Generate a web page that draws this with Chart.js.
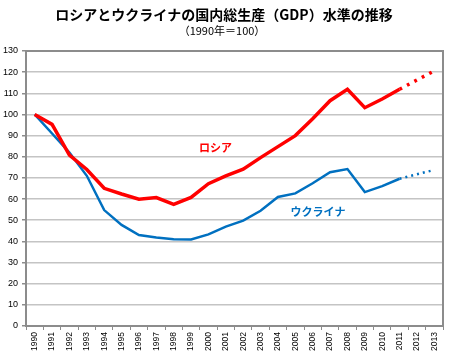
<!DOCTYPE html>
<html><head><meta charset="utf-8">
<script src="https://cdn.jsdelivr.net/npm/chart.js@4/dist/chart.umd.min.js"></script>
<style>html,body{margin:0;padding:0;background:#fff;}#wrap{width:450px;height:358px;position:relative;}</style>
</head><body><div id="wrap"><canvas id="c" width="450" height="358"></canvas></div>
<script>
const years = ['1990','1991','1992','1993','1994','1995','1996','1997','1998','1999','2000','2001','2002','2003','2004','2005','2006','2007','2008','2009','2010','2011','2012','2013'];
const russia = [100, 95.3, 80.8, 74.0, 65.1, 62.4, 59.9, 60.7, 57.5, 60.8, 67.3, 71.0, 74.1, 79.6, 84.8, 90.0, 98.0, 106.5, 111.9, 103.2, 107.3, 111.9, 116.3, 120.6];
const ukraine = [100, 91.0, 82.0, 71.0, 54.8, 47.8, 43.0, 41.8, 41.0, 40.9, 43.3, 47.0, 49.8, 54.5, 61.0, 62.7, 67.5, 72.7, 74.2, 63.3, 66.1, 69.6, 71.7, 73.8];
const forecastFrom = 21; // 2011 onward is dotted
const titleText = 'ロシアとウクライナの国内総生産（GDP）水準の推移';
const subtitleText = '（1990年＝100）';
const seriesLabels = ['ロシア', 'ウクライナ'];
const labelPos = [{x: 10.4, y: 84.2}, {x: 16.3, y: 53.9}];

const JP = '"Noto Sans CJK JP", "Noto Sans", sans-serif';
const colors = ['#ff0000', '#0070c0'];

const deco = {
  id: 'deco',
  beforeDatasetsDraw(chart) {
    const {ctx, chartArea: a} = chart;
    ctx.save();
    ctx.strokeStyle = '#8c8c8c';
    ctx.lineWidth = 2;
    ctx.beginPath();
    ctx.moveTo(a.left, a.top);
    ctx.lineTo(a.right, a.top);
    ctx.lineTo(a.right, a.bottom);
    ctx.stroke();
    ctx.restore();
  },
  afterDraw(chart) {
    const {ctx, scales} = chart;
    ctx.save();
    ctx.textAlign = 'center';
    ctx.textBaseline = 'middle';
    ctx.fillStyle = '#000';
    ctx.font = 'bold 14px ' + JP;
    ctx.fillText(titleText, 224, 15);
    ctx.font = '11px ' + JP;
    ctx.fillText(subtitleText, 222, 31);
    ctx.font = 'bold 11px ' + JP;
    seriesLabels.forEach((t, i) => {
      ctx.fillStyle = colors[i];
      ctx.fillText(t, scales.x.getPixelForValue(labelPos[i].x), scales.y.getPixelForValue(labelPos[i].y));
    });
    ctx.restore();
  }
};

const seg = (w) => ({
  borderDash: c => c.p0DataIndex >= forecastFrom ? [w * 0.8, w * 1.6] : undefined
});

new Chart(document.getElementById('c'), {
  type: 'line',
  data: {
    labels: years,
    datasets: [
      {label: seriesLabels[0], data: russia, borderColor: colors[0], borderWidth: 3.5, pointRadius: 0, tension: 0, segment: seg(3.5), borderCapStyle: 'butt'},
      {label: seriesLabels[1], data: ukraine, borderColor: colors[1], borderWidth: 2.5, pointRadius: 0, tension: 0, segment: seg(2.5), borderCapStyle: 'butt'}
    ]
  },
  options: {
    responsive: false,
    animation: false,
    layout: {padding: {top: 51, right: 7, left: 0, bottom: 0}},
    plugins: {legend: {display: false}, tooltip: {enabled: false}},
    scales: {
      x: {
        offset: true,
        grid: {offset: true, drawOnChartArea: false, drawTicks: true, tickLength: 4, color: '#8c8c8c', lineWidth: 1},
        border: {color: '#8c8c8c', width: 2},
        ticks: {minRotation: 90, maxRotation: 90, autoSkip: false, padding: 2, color: '#000', font: {family: '"Liberation Sans", Arial, sans-serif', size: 8.5}},
        afterFit(s) { s.height = 32; }
      },
      y: {
        min: 0, max: 130,
        ticks: {stepSize: 10, padding: 4, color: '#000', font: {family: '"Liberation Sans", Arial, sans-serif', size: 9}},
        grid: {color: c => c.tick && c.tick.value === 130 ? '#8c8c8c' : '#c4c4c4', lineWidth: 1.5, tickLength: 4, tickColor: '#8c8c8c'},
        border: {color: '#8c8c8c', width: 2},
        afterFit(s) { s.width = 26; }
      }
    }
  },
  plugins: [deco]
});
</script></body></html>
